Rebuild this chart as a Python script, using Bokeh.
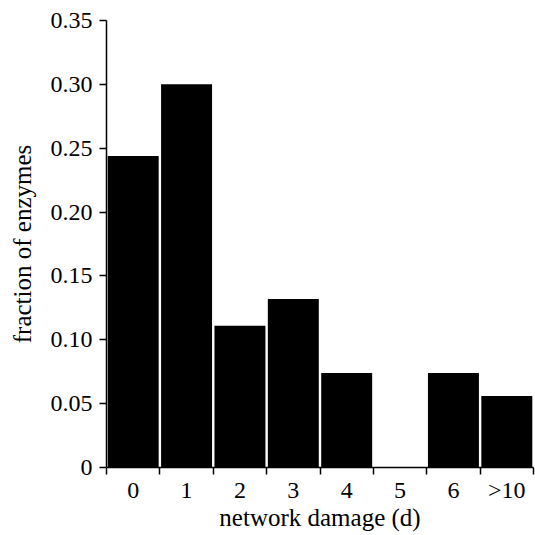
from bokeh.plotting import figure
from bokeh.models import FixedTicker, NumeralTickFormatter, Range1d, ColumnDataSource
from bokeh.embed import file_html
from bokeh.resources import INLINE

categories = ["0", "1", "2", "3", "4", "5", "6", ">10"]
fractions = [0.244, 0.300, 0.111, 0.132, 0.074, 0.0, 0.074, 0.056]
y_ticks = [0, 0.05, 0.10, 0.15, 0.20, 0.25, 0.30, 0.35]

FONT = "Liberation Serif"

centers = [i + 0.5 for i in range(len(categories))]
bounds = [float(i) for i in range(len(categories) + 1)]

p = figure(width=535, height=535, output_backend="svg", toolbar_location=None,
           x_range=Range1d(0, len(categories)), y_range=Range1d(0, y_ticks[-1]),
           min_border_left=106, min_border_right=2, min_border_top=20, min_border_bottom=68)
p.outline_line_color = None
p.xgrid.visible = False
p.ygrid.visible = False

src = ColumnDataSource(dict(x=centers, top=fractions))
p.vbar(x="x", top="top", width=0.955, source=src, fill_color="black", line_color=None)

# y axis
ya = p.yaxis[0]
ya.ticker = FixedTicker(ticks=y_ticks)
ya.formatter = NumeralTickFormatter(format="0.00")
ya.major_label_overrides = {0: "0"}
ya.major_tick_out = 7
ya.major_tick_in = 0
ya.minor_tick_out = 0
ya.minor_tick_in = 0
ya.axis_line_width = 1.5
ya.axis_line_color = "black"
ya.major_tick_line_width = 1.5
ya.major_tick_line_color = "black"
ya.major_label_text_font = FONT
ya.major_label_text_font_size = "24px"
ya.major_label_text_color = "black"
ya.major_label_standoff = 7
ya.axis_label = "fraction of enzymes"
ya.axis_label_text_font = FONT
ya.axis_label_text_font_size = "25px"
ya.axis_label_text_font_style = "normal"
ya.axis_label_text_color = "black"
ya.axis_label_standoff = 12

# x axis
xa = p.xaxis[0]
xa.ticker = FixedTicker(ticks=centers, minor_ticks=bounds)
xa.major_label_overrides = {c: lab for c, lab in zip(centers, categories)}
xa.major_tick_out = 0
xa.major_tick_in = 0
xa.minor_tick_out = 7
xa.minor_tick_in = 0
xa.minor_tick_line_width = 1.5
xa.minor_tick_line_color = "black"
xa.axis_line_width = 1.5
xa.axis_line_color = "black"
xa.major_label_text_font = FONT
xa.major_label_text_font_size = "24px"
xa.major_label_text_color = "black"
xa.major_label_standoff = 2
xa.axis_label = "network damage (d)"
xa.axis_label_text_font = FONT
xa.axis_label_text_font_size = "25px"
xa.axis_label_text_font_style = "normal"
xa.axis_label_text_color = "black"
xa.axis_label_standoff = -2

open("out.html", "w").write(file_html(p, INLINE))
